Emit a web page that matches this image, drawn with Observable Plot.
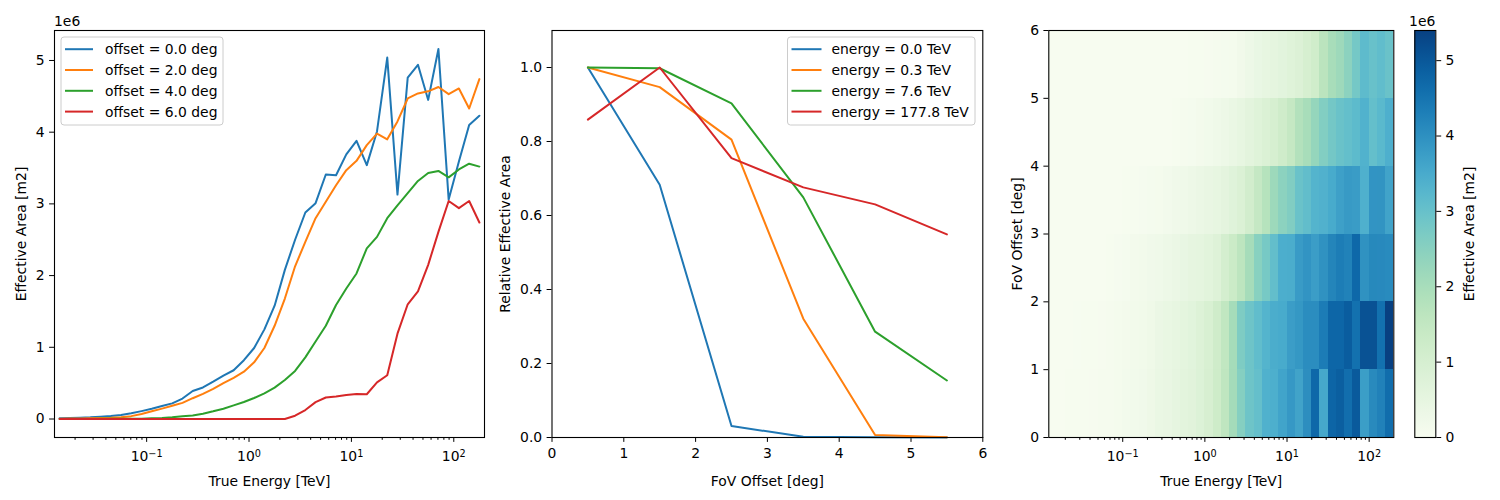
<!DOCTYPE html>
<html>
<head>
<meta charset="utf-8">
<script src="https://cdn.jsdelivr.net/npm/d3@7"></script>
<script src="https://cdn.jsdelivr.net/npm/@observablehq/plot@0.6"></script>
<style>
  body { margin: 0; background: white; }
  #fig { position: relative; width: 1500px; height: 500px; font-family: "DejaVu Sans"; }
  #fig svg { position: absolute; left: 0; top: 0; }
</style>
</head>
<body>
<div id="fig"></div>
<script>
// ---------------- data (effective area in units of 1e6 m2) ----------------
const energyCenters = [0.01413,0.01778,0.02239,0.02818,0.03548,0.04467,0.05623,0.07079,0.08913,0.1122,
  0.1413,0.1778,0.2239,0.2818,0.3548,0.4467,0.5623,0.7079,0.8913,1.122,
  1.413,1.778,2.239,2.818,3.548,4.467,5.623,7.079,8.913,11.22,
  14.13,17.78,22.39,28.18,35.48,44.67,56.23,70.79,89.13,112.2,141.3,177.8];
const energyEdges = [0.01259,0.01585,0.01995,0.02512,0.03162,0.03981,0.05012,0.0631,0.07943,0.1,
  0.1259,0.1585,0.1995,0.2512,0.3162,0.3981,0.5012,0.631,0.7943,1.0,
  1.259,1.585,1.995,2.512,3.162,3.981,5.012,6.31,7.943,10,
  12.59,15.85,19.95,25.12,31.62,39.81,50.12,63.1,79.43,100,125.9,158.5,199.5];
const offsetCenters = [0.5,1.5,2.5,3.5,4.5,5.5];
const offsetEdges = [0,1,2,3,4,5,6];

// Left panel: energy dependence at fixed offsets
const offsetLabels = ["offset = 0.0 deg","offset = 2.0 deg","offset = 4.0 deg","offset = 6.0 deg"];
const aeffOffset0 = [0.010,0.014,0.019,0.024,0.033,0.043,0.057,0.080,0.110,0.143,0.180,0.218,0.285,0.390,0.440,0.520,0.605,0.680,0.820,0.990,1.250,1.580,2.080,2.500,2.880,3.010,3.410,3.400,3.690,3.880,3.540,4.010,5.040,3.130,4.760,4.940,4.450,5.160,3.060,3.590,4.100,4.230];
const aeffOffset2 = [0.004,0.006,0.008,0.010,0.013,0.017,0.025,0.040,0.070,0.108,0.145,0.185,0.225,0.290,0.350,0.420,0.500,0.575,0.660,0.790,0.990,1.300,1.680,2.130,2.470,2.800,3.030,3.260,3.470,3.600,3.820,3.980,3.900,4.150,4.470,4.540,4.570,4.630,4.530,4.610,4.330,4.740];
const aeffOffset4 = [0.001,0.001,0.001,0.001,0.002,0.002,0.002,0.003,0.005,0.010,0.014,0.023,0.037,0.050,0.074,0.107,0.144,0.190,0.237,0.293,0.358,0.437,0.544,0.670,0.860,1.080,1.300,1.590,1.820,2.030,2.380,2.540,2.800,2.980,3.150,3.320,3.430,3.460,3.370,3.480,3.560,3.520];
const aeffOffset6 = [0,0,0,0,0,0,0,0,0,0,0,0,0,0,0,0,0,0,0,0,0,0,0,0.046,0.125,0.235,0.300,0.315,0.335,0.350,0.345,0.510,0.610,1.190,1.600,1.780,2.150,2.610,3.040,2.940,3.040,2.740];

// Middle panel: relative offset dependence at fixed energies
const energyLabels = ["energy = 0.0 TeV","energy = 0.3 TeV","energy = 7.6 TeV","energy = 177.8 TeV"];
const relE00 = [1.000,0.683,0.031,0.002,0.001,0.000];
const relE03 = [1.000,0.947,0.805,0.321,0.007,0.001];
const relE76 = [1.000,0.998,0.903,0.649,0.286,0.154];
const relE178 = [0.859,1.000,0.755,0.676,0.630,0.549];

// Right panel: 2D effective area, one row per offset bin
const grid05 = [0.009,0.012,0.017,0.021,0.030,0.039,0.052,0.073,0.101,0.133,0.169,0.207,0.273,0.377,0.429,0.509,0.593,0.668,0.808,0.978,1.238,1.568,2.070,2.550,2.890,3.040,3.370,3.420,3.630,3.840,3.640,4.020,4.710,3.540,4.760,4.880,4.600,4.960,3.740,4.090,4.250,4.620];
const grid15 = [0.006,0.009,0.012,0.016,0.022,0.030,0.041,0.059,0.084,0.113,0.147,0.184,0.248,0.351,0.408,0.486,0.569,0.645,0.784,0.953,1.213,1.545,2.050,2.650,2.900,3.100,3.300,3.450,3.500,3.750,3.850,4.050,4.050,4.350,4.750,4.750,4.900,4.550,5.100,5.100,4.550,5.400];
const grid25 = [0.002,0.003,0.004,0.004,0.005,0.006,0.010,0.020,0.045,0.080,0.120,0.160,0.200,0.229,0.292,0.354,0.431,0.505,0.536,0.627,0.767,1.055,1.310,1.610,2.040,2.500,2.760,3.070,3.440,3.450,3.790,3.910,3.750,3.950,4.190,4.330,4.240,4.710,3.960,4.120,4.110,4.080];
const grid35 = [0.003,0.003,0.003,0.003,0.004,0.004,0.004,0.006,0.010,0.020,0.028,0.046,0.074,0.100,0.138,0.194,0.238,0.300,0.354,0.416,0.486,0.574,0.708,0.860,1.120,1.440,1.750,2.180,2.440,2.610,2.960,3.080,3.300,3.360,3.500,3.690,3.810,3.770,3.390,3.910,3.920,3.640];
const grid45 = [0,0,0,0,0,0,0,0,0,0,0,0,0,0,0.010,0.020,0.050,0.080,0.120,0.170,0.230,0.300,0.380,0.480,0.600,0.720,0.850,1.000,1.200,1.450,1.800,2.000,2.300,2.600,2.800,2.950,3.050,3.150,3.350,3.050,3.200,3.400];
const grid55 = [0,0,0,0,0,0,0,0,0,0,0,0,0,0,0.002,0.005,0.012,0.020,0.030,0.040,0.060,0.075,0.095,0.190,0.280,0.400,0.480,0.540,0.620,0.720,0.830,1.010,1.170,1.660,2.000,2.170,2.450,2.790,3.140,2.980,3.090,2.960];

const majorLogTicks = [0.1, 1, 10, 100];
const tab10 = ["#1f77b4","#ff7f0e","#2ca02c","#d62728"];

// ---------------- helpers ----------------
const W = 1500, H = 500, TOP = 30, BOTTOM = 437, TICK = 4.9, FS = "13.9px";
const STYLE = {fontFamily: "DejaVu Sans", fontSize: FS, color: "black", background: "transparent", overflow: "visible"};
function margins(left, right) {
  return {width: W, height: H, marginLeft: left, marginRight: W - right, marginTop: TOP, marginBottom: H - BOTTOM};
}
const minorLogTicks = [];
for (const dec of [0.01, 0.1, 1, 10, 100]) for (let k = 2; k <= 9; k++) {
  const v = dec * k; if (v > energyEdges[0] && v < energyEdges[energyEdges.length - 1]) minorLogTicks.push(v);
}
function logFmt(d) { const e = Math.round(Math.log10(d)); return "10^" + (e < 0 ? "\u2212" + (-e) : e); }
function applySup(svg) {
  d3.select(svg).selectAll("text").each(function () {
    const m = /^10\^(.+)$/.exec(this.textContent);
    if (!m) return;
    const s = d3.select(this); s.text(null);
    s.append("tspan").text("10");
    s.append("tspan").attr("dy", "-0.5em").attr("font-size", "9.7px").text(m[1]);
  });
}
function logAxes(label) {
  return [
    Plot.axisX({ticks: minorLogTicks, tickSize: 2.8, tickFormat: () => "", label: null}),
    Plot.axisX({ticks: majorLogTicks, tickSize: TICK, tickPadding: 9.2, tickFormat: logFmt,
      label, labelAnchor: "center", labelArrow: "none", labelOffset: 48})
  ];
}
function addLegend(svg, x, y, w, h, labels, dx) {
  const g = d3.select(svg).append("g");
  g.append("rect").attr("x", x).attr("y", y).attr("width", w).attr("height", h)
    .attr("rx", 3).attr("fill", "white").attr("fill-opacity", 0.8)
    .attr("stroke", "#cccccc").attr("stroke-width", 1);
  labels.forEach((lab, i) => {
    const yy = y + 12.2 + i * 20.8;
    g.append("line").attr("x1", x + 4).attr("x2", x + 4 + dx).attr("y1", yy).attr("y2", yy)
      .attr("stroke", tab10[i]).attr("stroke-width", 2);
    g.append("text").attr("x", x + 44).attr("y", yy).attr("dominant-baseline", "central")
      .attr("text-anchor", "start")
      .attr("font-family", "DejaVu Sans").attr("font-size", FS).attr("fill", "black").text(lab);
  });
}
function addOffsetText(svg, x, anchor) {
  d3.select(svg).append("text").attr("x", x).attr("y", 26).attr("text-anchor", anchor)
    .attr("font-family", "DejaVu Sans").attr("font-size", FS).attr("fill", "black").text("1e6");
}
const fig = document.getElementById("fig");

// ---------------- panel 1 ----------------
const series1 = [aeffOffset0, aeffOffset2, aeffOffset4, aeffOffset6];
const rows1 = series1.flatMap((arr, s) => arr.map((v, i) => ({energy: energyCenters[i], value: v, series: offsetLabels[s]})));
const [mn1, mx1] = d3.extent(rows1, d => d.value);
const pad1 = 0.05 * (mx1 - mn1);
const p1 = Plot.plot({
  ...margins(54, 484),
  style: STYLE,
  x: {type: "log", domain: [energyEdges[0], energyEdges[energyEdges.length - 1]]},
  y: {domain: [mn1 - pad1, mx1 + pad1]},
  color: {domain: offsetLabels, range: tab10},
  marks: [
    ...logAxes("True Energy [TeV]"),
    Plot.axisY({ticks: [0, 1, 2, 3, 4, 5], tickSize: TICK, tickPadding: 4.9, tickFormat: "d",
      label: "Effective Area [m2]", labelAnchor: "center", labelArrow: "none", labelOffset: 38}),
    Plot.line(rows1, {x: "energy", y: "value", stroke: "series", strokeWidth: 2}),
    Plot.frame({stroke: "black", strokeWidth: 1.1})
  ]
});
applySup(p1);
addOffsetText(p1, 54, "start");
addLegend(p1, 61, 37, 162, 88, offsetLabels, 28);
fig.appendChild(p1);

// ---------------- panel 2 ----------------
const series2 = [relE00, relE03, relE76, relE178];
const rows2 = series2.flatMap((arr, s) => arr.map((v, i) => ({offset: offsetCenters[i], value: v, series: energyLabels[s]})));
const p2 = Plot.plot({
  ...margins(551.5, 982.3),
  style: STYLE,
  x: {domain: [0, 6]},
  y: {domain: [0, 1.1]},
  color: {domain: energyLabels, range: tab10},
  marks: [
    Plot.axisX({ticks: [0, 1, 2, 3, 4, 5, 6], tickSize: TICK, tickPadding: 6.2, tickFormat: "d",
      label: "FoV Offset [deg]", labelAnchor: "center", labelArrow: "none", labelOffset: 48}),
    Plot.axisY({ticks: [0, 0.2, 0.4, 0.6, 0.8, 1.0], tickSize: TICK, tickPadding: 4.9, tickFormat: ".1f",
      label: "Relative Effective Area", labelAnchor: "center", labelArrow: "none", labelOffset: 51.5}),
    Plot.line(rows2, {x: "offset", y: "value", stroke: "series", strokeWidth: 2}),
    Plot.frame({stroke: "black", strokeWidth: 1.1})
  ]
});
addLegend(p2, 787.5, 37, 187.5, 88, energyLabels, 30);
fig.appendChild(p2);

// ---------------- panel 3 ----------------
const grids = [grid05, grid15, grid25, grid35, grid45, grid55];
const cells = grids.flatMap((row, j) => row.map((v, i) => ({
  e1: energyEdges[i], e2: energyEdges[i + 1], o1: offsetEdges[j], o2: offsetEdges[j + 1], v
})));
const vmax = d3.max(cells, d => d.v);
const p3 = Plot.plot({
  ...margins(1048.3, 1393.3),
  style: STYLE,
  x: {type: "log", domain: [energyEdges[0], energyEdges[energyEdges.length - 1]]},
  y: {domain: [0, 6]},
  color: {type: "linear", scheme: "GnBu", domain: [0, vmax]},
  marks: [
    Plot.rect(cells, {x1: "e1", x2: "e2", y1: "o1", y2: "o2", fill: "v", shapeRendering: "crispEdges"}),
    ...logAxes("True Energy [TeV]"),
    Plot.axisY({ticks: [0, 1, 2, 3, 4, 5, 6], tickSize: TICK, tickPadding: 4.9, tickFormat: "d",
      label: "FoV Offset [deg]", labelAnchor: "center", labelArrow: "none", labelOffset: 37}),
    Plot.frame({stroke: "black", strokeWidth: 1.1})
  ]
});
applySup(p3);
fig.appendChild(p3);

// ---------------- colorbar ----------------
const pcb = Plot.plot({
  ...margins(1414.3, 1435.3),
  style: STYLE,
  x: {domain: [0, 1], axis: null},
  y: {domain: [0, vmax]},
  marks: [
    Plot.rect([{lo: 0, hi: vmax}], {x1: 0, x2: 1, y1: "lo", y2: "hi", fill: "url(#cbgrad)"}),
    Plot.axisY({anchor: "right", ticks: [0, 1, 2, 3, 4, 5], tickSize: TICK, tickPadding: 4.9, tickFormat: "d",
      label: "Effective Area [m2]", labelAnchor: "center", labelArrow: "none", labelOffset: 38}),
    Plot.frame({stroke: "black", strokeWidth: 1.1})
  ]
});
const grad = d3.select(pcb).append("defs").append("linearGradient").attr("id", "cbgrad")
  .attr("x1", 0).attr("y1", 1).attr("x2", 0).attr("y2", 0);
d3.range(0, 1.0001, 0.05).forEach(t => grad.append("stop").attr("offset", t).attr("stop-color", d3.interpolateGnBu(t)));
addOffsetText(pcb, 1435.3, "end");
fig.appendChild(pcb);
</script>
</body>
</html>
